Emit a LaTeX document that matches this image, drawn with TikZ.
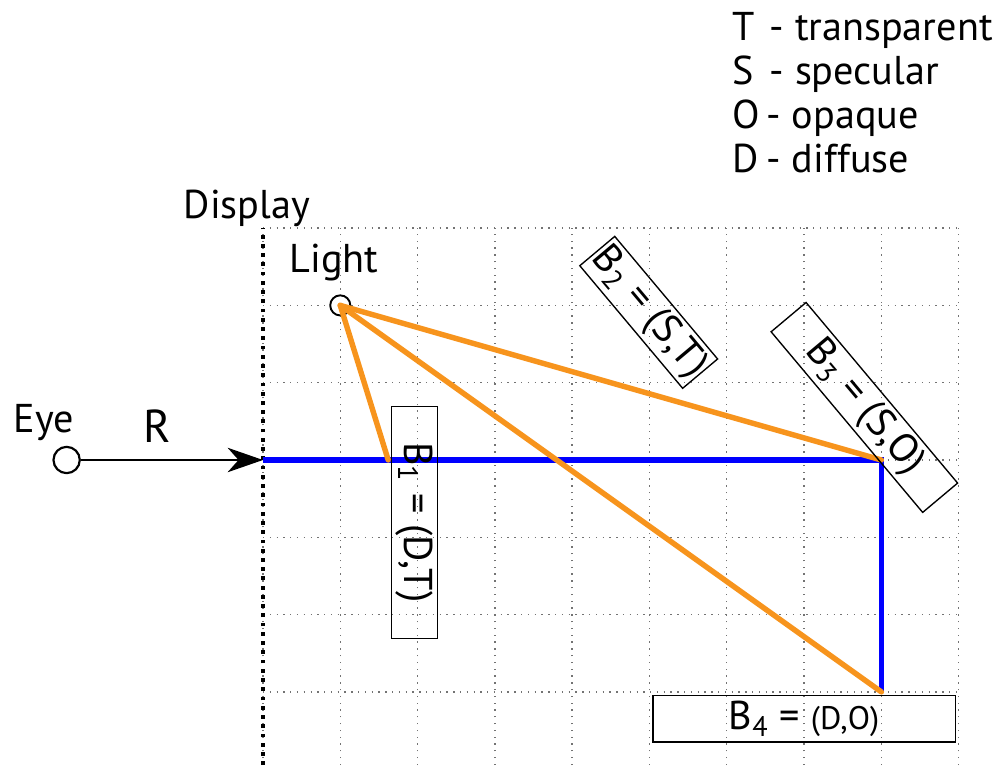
\documentclass[tikz,border=0pt]{standalone}
\usepackage{fontspec}
\setmainfont{PT Sans}
\usetikzlibrary{arrows.meta, positioning}
\definecolor{rayorange}{RGB}{247,148,29}
\definecolor{rayblue}{RGB}{0,0,255}

\begin{document}
\begin{tikzpicture}[x=1cm, y=1cm, font=\fontsize{14.8}{17}\selectfont]
        \tikzstyle{gridline} = [draw, black!55, dotted, line width=0.5pt]
        \tikzstyle{screen} = [draw, black, line width=1.4pt, dash pattern=on 1.4pt off 2pt]
        \tikzstyle{spot} = [circle, draw, fill=white, inner sep=0pt, line width=0.7pt]
        \tikzstyle{bounce} = [rectangle, draw, line width=0.5pt, inner sep=0pt, minimum height=0.59cm]
        \tikzstyle{ray} = [draw, rayorange, line width=2pt, line cap=round]
        \tikzstyle{trace} = [draw, rayblue, line width=2pt]
        \tikzstyle{eyeray} = [draw, line width=0.8pt, -{Stealth[length=13pt, width=9pt, inset=4pt]}]
        \tikzstyle{tag} = [inner sep=0pt, anchor=base west]

        \useasboundingbox (-3.402,-3.946) rectangle (9.483,5.951);

        % grid and display plane
        \draw [gridline] (0,-3.946) grid (9,3);
        \draw [screen] (0,-3.946) -- (0,3);

        % eye ray and hit points
        \node [spot, minimum size=0.34cm, line width=0.8pt] (eye) at (-2.54,0) {};
        \node [spot, minimum size=0.26cm] (light) at (1,2) {};
        \coordinate (entry) at (0,0);
        \coordinate (hit1) at (1.62,0);
        \coordinate (hit3) at (8,0);
        \coordinate (hit4) at (8,-3);

        \path [eyeray] (eye) -- (entry);
        \path [trace] (entry) -- (hit3) -- (hit4);
        \path [ray] (light.center) -- (hit1);
        \path [ray] (light.center) -- (hit3);
        \path [ray] (light.center) -- (hit4);

        % labels
        \node [tag] (display) at (-1.03,3.13) {Display};
        \node [tag] (lightname) at (0.34,2.42) {Light};
        \node [tag] (eyename) at (-3.23,0.35) {Eye};
        \node [tag, font=\fontsize{17}{20}\selectfont] (rname) at (-1.55,0.22) {R};

        % bounces
        \node [bounce, minimum width=3.0cm, rotate=-90] (b1) at (1.96,-0.81) {B\textsubscript{1} = (D,T)\hspace{0.5cm}};
        \node [bounce, minimum width=2.07cm, rotate=-50] (b2) at (4.99,1.91) {B\textsubscript{2} = (S,T)};
        \node [bounce, minimum width=3.05cm, rotate=-50] (b3) at (7.78,0.68) {B\textsubscript{3} = (S,O)};
        \node [bounce, minimum width=3.91cm, minimum height=0.6cm] (b4) at (7.0,-3.35) {B\textsubscript{4} = {\fontsize{12}{14}\selectfont (D,O)}};

        % legend
        \node [tag] (kt) at (6.07,5.43) {T};
        \node [tag] (wt) at (6.55,5.43) {- transparent};
        \node [tag] (ks) at (6.07,4.86) {S};
        \node [tag] (ws) at (6.55,4.86) {- specular};
        \node [tag] (ko) at (6.07,4.29) {O};
        \node [tag] (wo) at (6.51,4.29) {- opaque};
        \node [tag] (kd) at (6.07,3.72) {D};
        \node [tag] (wd) at (6.51,3.72) {- diffuse};
    \end{tikzpicture}
\end{document}
